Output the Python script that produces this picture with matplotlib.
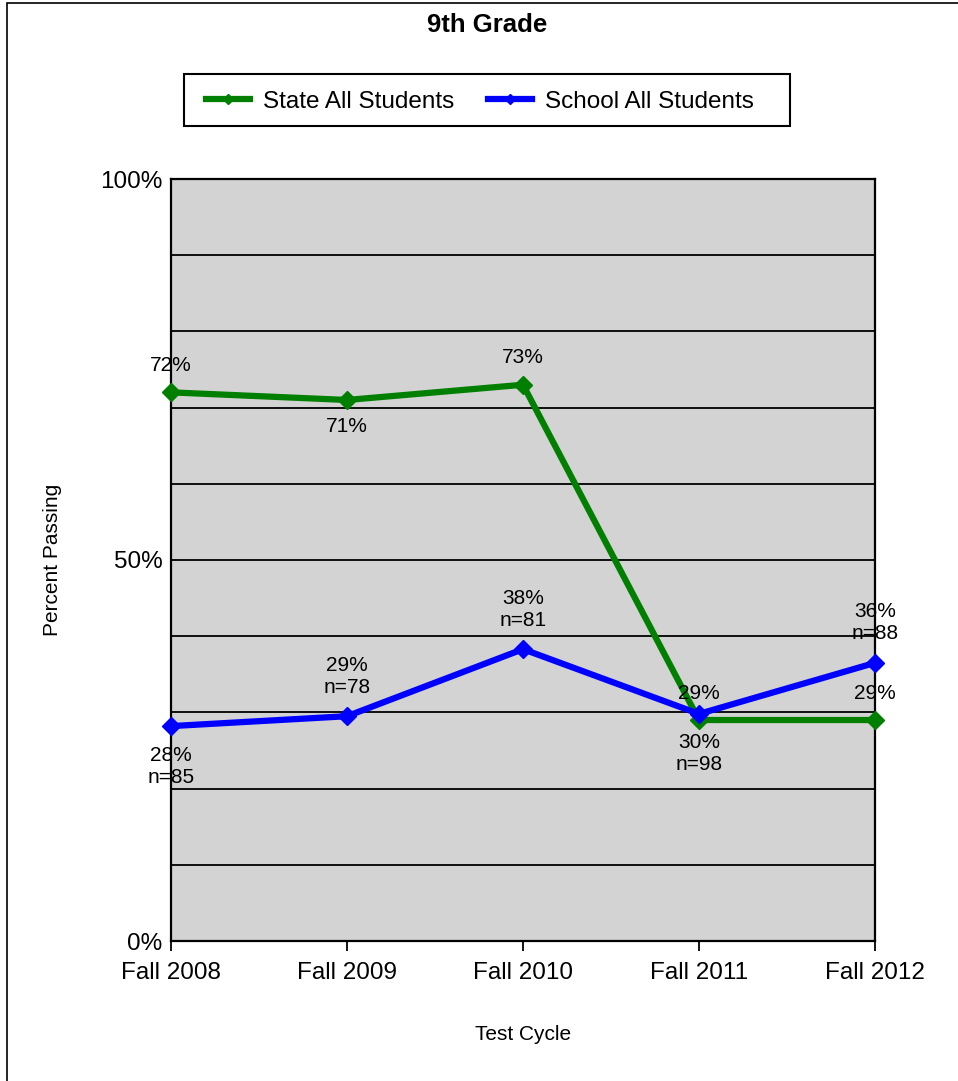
import matplotlib.pyplot as plt
from matplotlib.patches import Rectangle

cycles = ['Fall 2008', 'Fall 2009', 'Fall 2010', 'Fall 2011', 'Fall 2012']
state_pct = [72.0, 71.0, 73.0, 29.0, 29.0]
school_pct = [28.2, 29.5, 38.3, 29.8, 36.5]
state_labels = ['72%', '71%', '73%', '29%', '29%']
school_labels = ['28%\nn=85', '29%\nn=78', '38%\nn=81', '30%\nn=98', '36%\nn=88']
# label above (-1) or below (+1) the point
state_side = [-1, 1, -1, -1, -1]
school_side = [1, -1, -1, 1, -1]

plt.rcParams['font.family'] = ['Liberation Sans', 'DejaVu Sans']

W, H = 958, 1081
fig = plt.figure(figsize=(W / 100, H / 100), dpi=100)

# outer frame (only left and top edges fall inside the image)
fig.patches.append(Rectangle((7 / W, -0.1), 1.2, 1.1 - 3 / H,
                             transform=fig.transFigure, fill=False,
                             edgecolor='black', linewidth=1.2))

left, right, top, bottom = 171, 875, 179, 941
ax = fig.add_axes([left / W, 1 - bottom / H, (right - left) / W, (bottom - top) / H])
ax.set_facecolor('#d3d3d3')

x = list(range(len(cycles)))
ax.plot(x, state_pct, color='#007f00', linewidth=4.5, marker='D', markersize=9,
        label='State All Students', zorder=3, clip_on=False)
ax.plot(x, school_pct, color='#0000ff', linewidth=4.5, marker='D', markersize=9,
        label='School All Students', zorder=4, clip_on=False)

ax.set_xlim(0, len(cycles) - 1)
ax.set_ylim(0, 100)
for g in range(10, 100, 10):
    ax.axhline(g, color='black', linewidth=1.3, zorder=1)

ax.set_yticks([0, 50, 100])
ax.set_yticklabels(['0%', '50%', '100%'], fontsize=17.5)
ax.set_xticks(x)
ax.set_xticklabels(cycles, fontsize=17.5)
ax.tick_params(axis='x', length=7, width=1.3, color='black', pad=8)
ax.tick_params(axis='y', length=0, pad=6)
for s in ax.spines.values():
    s.set_linewidth(1.6)

for i in x:
    ax.annotate(state_labels[i], (i, state_pct[i]), xytext=(0, -27 * state_side[i]),
                textcoords='offset pixels', ha='center', va='center', fontsize=15,
                zorder=6, annotation_clip=False)
    ax.annotate(school_labels[i], (i, school_pct[i]), xytext=(0, -40 * school_side[i]),
                textcoords='offset pixels', ha='center', va='center', fontsize=15,
                linespacing=1.2, zorder=6, annotation_clip=False)

ax.set_ylabel('Percent Passing', fontsize=15)
ax.yaxis.set_label_coords((53 - left) / (right - left), 0.5)
ax.yaxis.label.set_va('center')
ax.set_xlabel('Test Cycle', fontsize=15)
ax.xaxis.set_label_coords(0.5, (bottom - 1035) / (bottom - top))
ax.xaxis.label.set_va('center')

fig.text(487 / W, 1 - 25 / H, '9th Grade', ha='center', va='center',
         fontsize=18.5, fontweight='bold')

# legend entries without frame, box drawn separately (uneven padding in reference)
leg = fig.legend(loc='center', bbox_to_anchor=(480 / W, 1 - 102 / H), ncol=2,
                 fontsize=17.5, frameon=False, handlelength=1.8,
                 handletextpad=0.55, columnspacing=1.4, borderpad=0.5,
                 borderaxespad=0, markerscale=0.6)
fig.patches.append(Rectangle((184 / W, 1 - 126 / H), (790 - 184) / W, 52 / H,
                             transform=fig.transFigure, fill=False,
                             edgecolor='black', linewidth=1.5))

fig.savefig('out.png', dpi=100)
